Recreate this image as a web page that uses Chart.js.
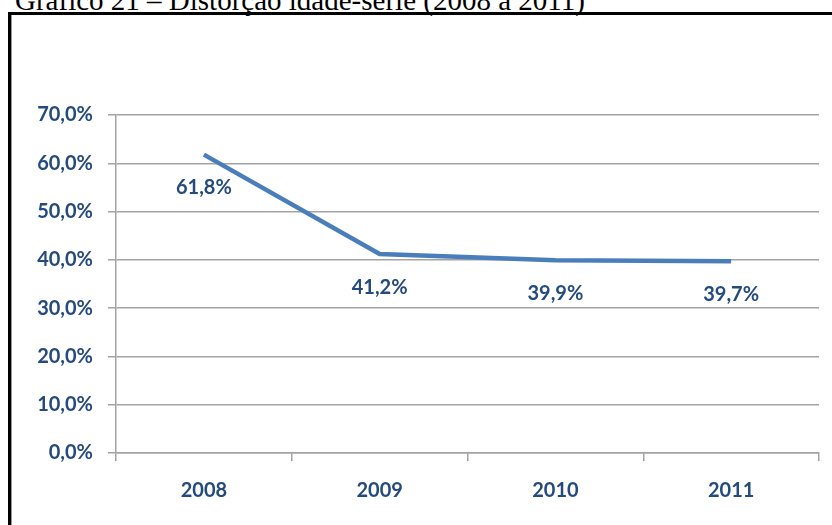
<!DOCTYPE html>
<html>
<head>
<meta charset="utf-8">
<script src="https://cdn.jsdelivr.net/npm/chart.js@4/dist/chart.umd.min.js"></script>
<style>
  html, body { margin: 0; padding: 0; background: #fff; }
  body { width: 832px; height: 525px; overflow: hidden; position: relative; }
  #title { position: absolute; left: 15px; top: -14px; font-family: 'Liberation Serif', 'Times New Roman', serif; font-size: 29px; line-height: 1; white-space: nowrap; color: #000; }
  #frame { position: absolute; left: 8px; top: 12px; right: -10px; bottom: -10px; border-top: 3px solid #000; border-left: 3px solid #000; box-shadow: inset 1px 0 0 #9a9a9a; }
  #c { position: absolute; left: 0; top: 0; }
</style>
</head>
<body>
<div id="title">Gráfico 21 – Distorção idade-série (2008 a 2011)</div>
<div id="frame"></div>
<canvas id="c" width="832" height="525"></canvas>
<script>
const categories = ['2008', '2009', '2010', '2011'];
const values = [61.8, 41.2, 39.9, 39.7];
const dataLabels = ['61,8%', '41,2%', '39,9%', '39,7%'];
const yTickLabels = ['0,0%', '10,0%', '20,0%', '30,0%', '40,0%', '50,0%', '60,0%', '70,0%'];

const textColor = '#254a7c';
const gridColor = '#a3a3a3';

const labelPlugin = {
  id: 'pointLabels',
  afterDatasetsDraw(chart) {
    const ctx = chart.ctx;
    const meta = chart.getDatasetMeta(0);
    ctx.save();
    ctx.font = 'bold 20px Lato';
    ctx.fillStyle = textColor;
    ctx.textAlign = 'center';
    ctx.textBaseline = 'middle';
    meta.data.forEach((pt, i) => {
      ctx.fillText(dataLabels[i], pt.x, pt.y + 33);
    });
    ctx.restore();
  }
};

new Chart(document.getElementById('c'), {
  type: 'line',
  data: {
    labels: categories,
    datasets: [{
      data: values,
      borderColor: '#4a7ebb',
      borderWidth: 4.5,
      borderCapStyle: 'butt',
      pointRadius: 0,
      tension: 0,
      fill: false
    }]
  },
  options: {
    responsive: false,
    animation: false,
    layout: { padding: { top: 115, right: 13, left: 0, bottom: 0 } },
    plugins: { legend: { display: false }, tooltip: { enabled: false } },
    scales: {
      x: {
        offset: true,
        afterFit: s => { s.height = 72; },
        grid: { drawOnChartArea: false, offset: true, tickLength: 8, color: gridColor, lineWidth: 1.5 },
        border: { color: gridColor, width: 1.5 },
        ticks: { color: textColor, font: { family: 'Lato', size: 20, weight: 'bold' }, padding: 18 }
      },
      y: {
        min: 0,
        max: 70,
        afterFit: s => { s.width = 116; },
        grid: { color: gridColor, lineWidth: 1.5, tickLength: 8 },
        border: { color: gridColor, width: 1.5 },
        ticks: {
          stepSize: 10,
          color: textColor,
          font: { family: 'Lato', size: 20, weight: 'bold' },
          padding: 15,
          callback: (v, i) => yTickLabels[i]
        }
      }
    }
  },
  plugins: [labelPlugin]
});
</script>
</body>
</html>
